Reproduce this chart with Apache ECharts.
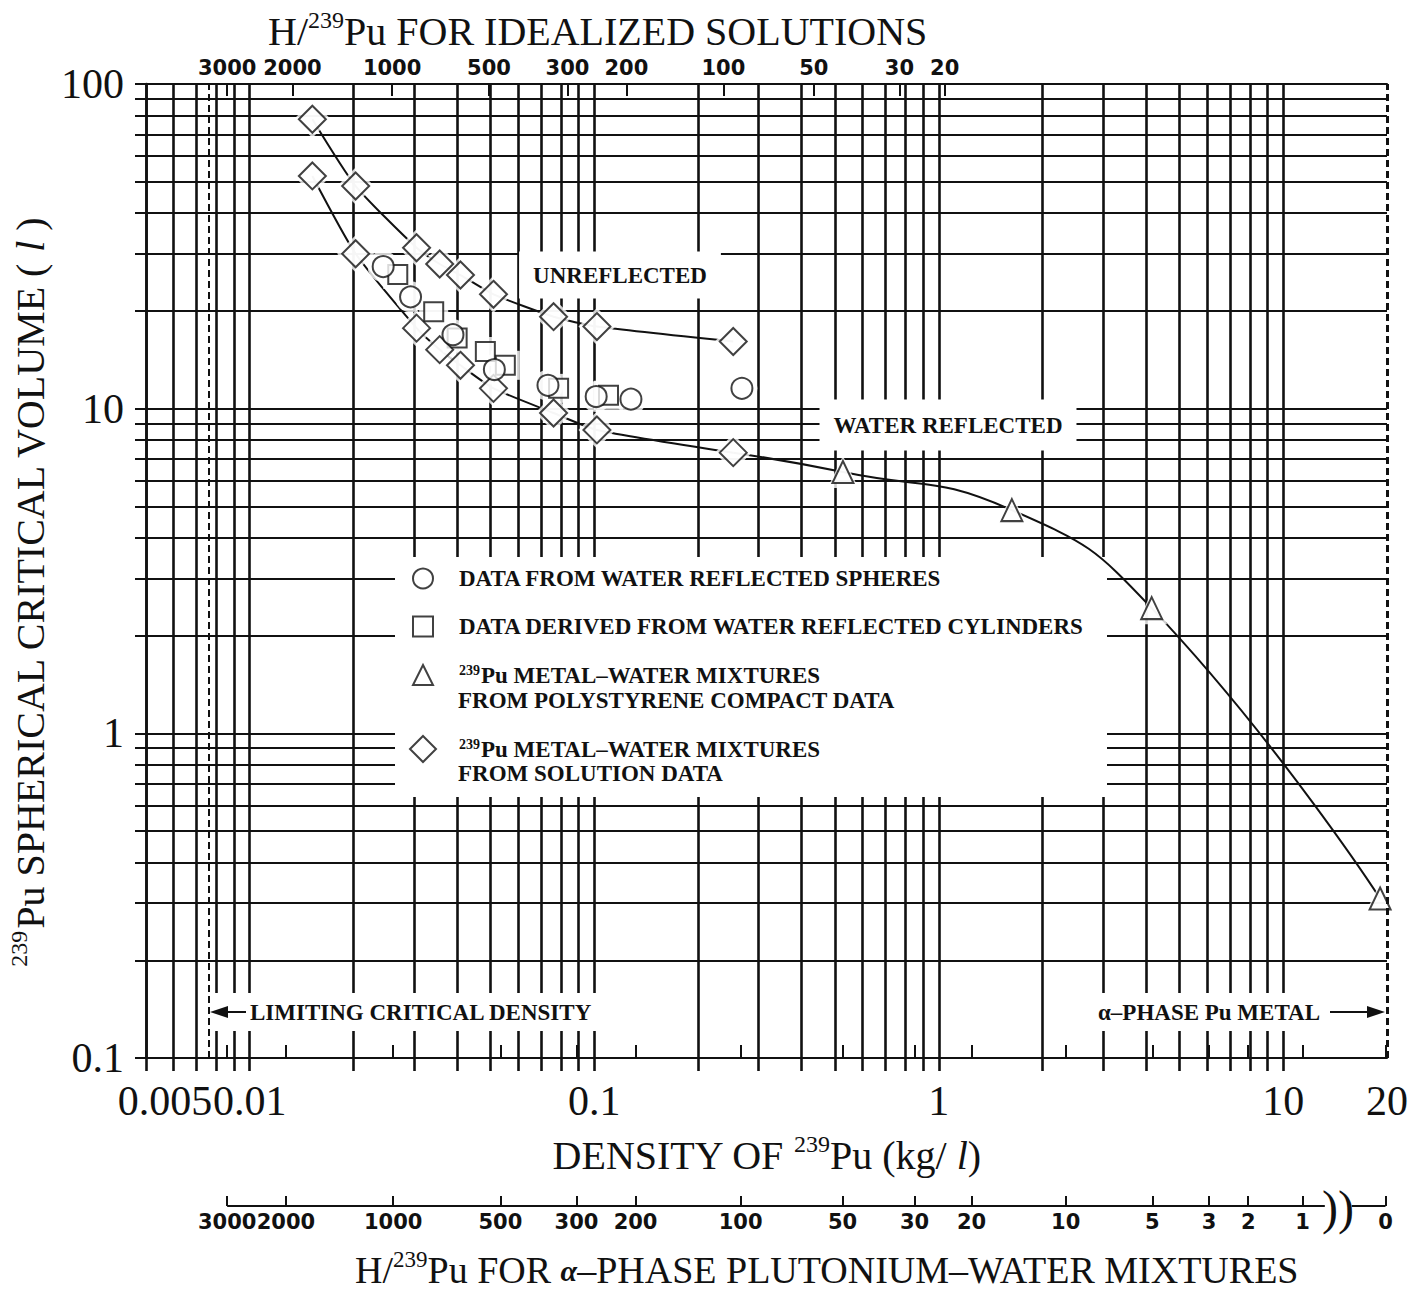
<!DOCTYPE html>
<html>
<head>
<meta charset="utf-8">
<title>239Pu spherical critical volume</title>
<script src="https://cdn.jsdelivr.net/npm/echarts@6/dist/echarts.min.js"></script>
<style>
  html, body { margin: 0; padding: 0; background: #fff; }
  #chart { width: 1413px; height: 1294px; }
</style>
</head>
<body>
<div id="chart"></div>
<script>
// density of 239Pu (kg/l) and critical volume (l)
const unreflectedDensity = [0.0152, 0.0203, 0.0305, 0.0356, 0.0409, 0.0510, 0.0762, 0.1018, 0.2532];
const unreflectedVolume = [77.9, 48.5, 31.3, 27.9, 25.8, 22.5, 19.2, 17.9, 16.1];
const reflectedDensity = [0.0152, 0.0203, 0.0305, 0.0356, 0.0409, 0.0510, 0.0762, 0.1018, 0.2532];
const reflectedVolume = [52.1, 30.0, 17.7, 15.2, 13.6, 11.55, 9.7, 8.6, 7.32];
const compactDensity = [0.527, 1.63, 4.15, 19.1];
const compactVolume = [6.38, 4.87, 2.43, 0.31];
const sphereDensity = [0.0244, 0.0293, 0.0389, 0.0513, 0.0734, 0.1013, 0.1278, 0.2683];
const sphereVolume = [27.4, 22.1, 16.9, 13.2, 11.8, 10.9, 10.7, 11.55];
const cylinderDensity = [0.0269, 0.0342, 0.0400, 0.0483, 0.0552, 0.0788, 0.1100];
const cylinderVolume = [25.9, 19.9, 16.5, 15.0, 13.6, 11.55, 11.0];

// grid and tick values
const xGridValues = [0.005, 0.006, 0.007, 0.008, 0.009,
  0.01, 0.02, 0.03, 0.04, 0.05, 0.06, 0.07, 0.08, 0.09,
  0.1, 0.2, 0.3, 0.4, 0.5, 0.6, 0.7, 0.8, 0.9,
  1, 2, 3, 4, 5, 6, 7, 8, 9, 10];
const xLabelValues = [0.005, 0.01, 0.1, 1, 10, 20];
const yGridValues = [0.1, 0.2, 0.3, 0.4, 0.5, 0.6, 0.7, 0.8, 0.9,
  1, 2, 3, 4, 5, 6, 7, 8, 9,
  10, 20, 30, 40, 50, 60, 70, 80, 90, 100];
const yLabelValues = [0.1, 1, 10, 100];

// H/239Pu scales and where they fall on the density axis
const solutionHPu = ['3000', '2000', '1000', '500', '300', '200', '100', '50', '30', '20'];
const solutionHPuDensity = [0.0086, 0.0133, 0.0259, 0.0495, 0.0836, 0.124, 0.237, 0.434, 0.769, 1.04];
const alphaHPu = ['3000', '2000', '1000', '500', '300', '200', '100', '50', '30', '20', '10', '5', '3', '2', '1', '0'];
const alphaHPuDensity = [0.0086, 0.01274, 0.02608, 0.0534, 0.0888, 0.1318, 0.2661, 0.5259, 0.8503,
  1.245, 2.335, 4.168, 6.089, 7.91, 11.37, 19.8];

const LIMITING_DENSITY = 0.0076;
const ALPHA_METAL_DENSITY = 20;
const SCALE_BREAK = [13.2, 15.8];

const SERIF = "'Liberation Serif', 'DejaVu Serif', serif";
const GOTHIC = "'DejaVu Sans', 'Liberation Sans', sans-serif";
const INK = '#111';

const SPHERES = 'DATA FROM WATER REFLECTED SPHERES';
const CYLINDERS = 'DATA DERIVED FROM WATER REFLECTED CYLINDERS';
const COMPACT = '239Pu METAL–WATER MIXTURES FROM POLYSTYRENE COMPACT DATA';
const SOLUTION = '239Pu METAL–WATER MIXTURES FROM SOLUTION DATA';

function zip(xs, ys) {
  return xs.map(function (x, i) { return [x, ys[i]]; });
}

function lookup(values, labels) {
  return function (v) {
    for (let i = 0; i < values.length; i++) {
      if (Math.abs(Math.log10(v) - Math.log10(values[i])) < 1e-6) return labels[i];
    }
    return '';
  };
}

function plain(v) {
  return String(+(+v).toPrecision(6));
}

function legendText(pad) {
  return {
    formatter: function (name) {
      if (name.indexOf('239') === 0) return '{sp|239}{t|Pu METAL–WATER MIXTURES}';
      return '{p|' + name + '}';
    },
    textStyle: {
      rich: {
        p: { fontFamily: SERIF, fontWeight: 'bold', fontSize: 23, lineHeight: 24, color: INK, padding: [0, 0, 0, pad] },
        t: { fontFamily: SERIF, fontWeight: 'bold', fontSize: 23, lineHeight: 24, color: INK },
        sp: { fontFamily: SERIF, fontWeight: 'bold', fontSize: 14, lineHeight: 14, verticalAlign: 'top', color: INK, padding: [0, 1, 0, pad] }
      }
    }
  };
}

// rich styles for titles and axis names (superscript 239, italic litre)
function titleRich(size) {
  return {
    a: { fontFamily: SERIF, fontWeight: 'normal', fontSize: size, lineHeight: size + 6, color: INK },
    i: { fontFamily: SERIF, fontWeight: 'normal', fontSize: size, lineHeight: size + 6, fontStyle: 'italic', color: INK },
    s: { fontFamily: SERIF, fontWeight: 'normal', fontSize: Math.round(size * 0.6), lineHeight: Math.round(size * 0.75), verticalAlign: 'top', color: INK },
    g: { fontFamily: SERIF, fontWeight: 'bold', fontStyle: 'italic', fontSize: Math.round(size * 0.78), lineHeight: size + 6, color: INK }
  };
}

const markerStyle = { color: '#fff', borderColor: INK, borderWidth: 2 };
const haloStyle = { color: '#fff', borderWidth: 0 };

const solutionPoints = zip(unreflectedDensity, unreflectedVolume).concat(zip(reflectedDensity, reflectedVolume));
const lastReflected = reflectedDensity.length - 1;

const chart = echarts.init(document.getElementById('chart'), null, { renderer: 'svg' });

const option = {
  animation: false,
  backgroundColor: '#fff',
  title: [
    {
      text: '{a|H/}{s|239}{a|Pu FOR IDEALIZED SOLUTIONS}',
      left: 268, top: 8, padding: 0,
      textStyle: { fontWeight: 'normal', rich: titleRich(40) }
    },
    {
      text: '{a|H/}{s|239}{a|Pu FOR }{g|α}{a|–PHASE PLUTONIUM–WATER MIXTURES}',
      left: 355, top: 1248, padding: 0,
      textStyle: { fontWeight: 'normal', rich: titleRich(38) }
    }
  ],
  legend: [
    Object.assign({
      data: [{ name: SPHERES }, { name: CYLINDERS }, { name: COMPACT }],
      orient: 'vertical', left: 412, top: 567, padding: 0,
      itemWidth: 20, itemHeight: 20, itemGap: 25, selectedMode: false
    }, legendText(21)),
    Object.assign({
      data: [{ name: SOLUTION }],
      orient: 'vertical', left: 409, top: 735, padding: 0,
      itemWidth: 26, itemHeight: 26, selectedMode: false
    }, legendText(18))
  ],
  grid: [
    { left: 146, right: 26, top: 84, bottom: 236, outerBoundsMode: 'none' },
    { left: 146, right: 26, top: 1196, height: 10, outerBoundsMode: 'none' }
  ],
  xAxis: [
    {
      gridIndex: 0, type: 'log', min: 0.005, max: 20, position: 'bottom',
      axisLine: { show: true, lineStyle: { color: INK, width: 2 } },
      axisTick: { show: true, customValues: xGridValues, length: 13, lineStyle: { color: INK, width: 2.6 } },
      axisLabel: {
        customValues: xLabelValues, margin: 22,
        fontFamily: SERIF, fontSize: 42, color: INK,
        formatter: function (v) {
          const s = plain(v);
          return s === '0.005' ? '{m|0.005}' : s;
        },
        rich: { m: { fontFamily: SERIF, fontSize: 42, color: INK, padding: [0, 0, 0, 38] } }
      },
      splitLine: { show: true, lineStyle: { color: INK, width: 2.6 } },
      name: '{a|DENSITY OF }{s|239}{a|Pu (kg/ }{i|l}{a|)}',
      nameLocation: 'middle', nameGap: 74,
      nameTextStyle: { rich: titleRich(40) }
    },
    {
      gridIndex: 0, type: 'log', min: 0.005, max: 20, position: 'top',
      axisLine: { show: true, lineStyle: { color: INK, width: 2 } },
      axisTick: { show: true, inside: true, customValues: solutionHPuDensity, length: 12, lineStyle: { color: INK, width: 2 } },
      axisLabel: {
        customValues: solutionHPuDensity, margin: 6,
        fontFamily: GOTHIC, fontWeight: 'bold', fontSize: 21, color: INK,
        formatter: lookup(solutionHPuDensity, solutionHPu)
      },
      splitLine: { show: false }
    },
    {
      gridIndex: 0, type: 'log', min: 0.005, max: 20, position: 'bottom',
      axisLine: { show: false },
      axisTick: { show: true, inside: true, customValues: alphaHPuDensity, length: 13, lineStyle: { color: INK, width: 2 } },
      axisLabel: { show: false },
      splitLine: { show: false }
    },
    {
      gridIndex: 1, type: 'log', min: 0.005, max: 20, position: 'bottom',
      axisLine: { show: false },
      axisTick: { show: true, inside: true, customValues: alphaHPuDensity, length: 10, lineStyle: { color: INK, width: 2 } },
      axisLabel: {
        customValues: alphaHPuDensity, margin: 5,
        fontFamily: GOTHIC, fontWeight: 'bold', fontSize: 21, color: INK,
        formatter: lookup(alphaHPuDensity, alphaHPu)
      },
      splitLine: { show: false }
    }
  ],
  yAxis: [
    {
      gridIndex: 0, type: 'log', min: 0.1, max: 100,
      axisLine: { show: true, lineStyle: { color: INK, width: 2.6 } },
      axisTick: { show: true, customValues: yGridValues, length: 11, lineStyle: { color: INK, width: 2 } },
      axisLabel: {
        customValues: yLabelValues, margin: 22,
        fontFamily: SERIF, fontSize: 42, color: INK, formatter: plain
      },
      splitLine: { show: true, lineStyle: { color: INK, width: 2 } },
      name: '{s|239}{a|Pu SPHERICAL CRITICAL VOLUME ( }{i|l}{a| )}',
      nameLocation: 'middle', nameGap: 78,
      nameTextStyle: { padding: [0, 42, 0, 0], rich: titleRich(40) }
    },
    { gridIndex: 1, type: 'value', min: 0, max: 1, show: false }
  ],
  series: [
    {
      name: 'unreflected curve', type: 'line', xAxisIndex: 0, yAxisIndex: 0,
      data: zip(unreflectedDensity, unreflectedVolume),
      smooth: 0.2, symbol: 'none', silent: true, z: 2,
      lineStyle: { color: INK, width: 2 },
      markLine: {
        silent: true, symbol: ['none', 'none'], label: { show: false }, precision: 6,
        lineStyle: { color: INK, type: [7, 4], width: 2 },
        data: [{ xAxis: LIMITING_DENSITY }, { xAxis: ALPHA_METAL_DENSITY, lineStyle: { width: 3 } }]
      }
    },
    {
      name: 'reflected curve', type: 'line', xAxisIndex: 0, yAxisIndex: 0,
      data: zip(reflectedDensity, reflectedVolume),
      smooth: 0.2, symbol: 'none', silent: true, z: 2,
      lineStyle: { color: INK, width: 2 }
    },
    {
      name: 'reflected curve, metal-water', type: 'line', xAxisIndex: 0, yAxisIndex: 0,
      data: [[reflectedDensity[lastReflected], reflectedVolume[lastReflected]]].concat(zip(compactDensity, compactVolume)),
      smooth: 0.5, symbol: 'none', silent: true, z: 2,
      lineStyle: { color: INK, width: 2 }
    },
    { type: 'scatter', data: zip(cylinderDensity, cylinderVolume), symbol: 'rect', symbolSize: 29, itemStyle: haloStyle, silent: true, z: 3 },
    { type: 'scatter', data: zip(sphereDensity, sphereVolume), symbol: 'circle', symbolSize: 31, itemStyle: haloStyle, silent: true, z: 3 },
    { type: 'scatter', data: zip(compactDensity, compactVolume), symbol: 'triangle', symbolSize: [31, 32], itemStyle: haloStyle, silent: true, z: 3 },
    { type: 'scatter', data: solutionPoints, symbol: 'diamond', symbolSize: 37, itemStyle: haloStyle, silent: true, z: 3 },
    { name: CYLINDERS, type: 'scatter', data: zip(cylinderDensity, cylinderVolume), symbol: 'rect', symbolSize: 19, itemStyle: markerStyle, z: 4 },
    { name: SPHERES, type: 'scatter', data: zip(sphereDensity, sphereVolume), symbol: 'circle', symbolSize: 21, itemStyle: markerStyle, z: 5 },
    { name: COMPACT, type: 'scatter', data: zip(compactDensity, compactVolume), symbol: 'triangle', symbolSize: [21, 22], itemStyle: markerStyle, z: 4 },
    { name: SOLUTION, type: 'scatter', data: solutionPoints, symbol: 'diamond', symbolSize: 27, itemStyle: markerStyle, z: 4 },
    {
      name: 'scale left', type: 'line', xAxisIndex: 3, yAxisIndex: 1, clip: false, silent: true,
      data: [[alphaHPuDensity[0], 0], [SCALE_BREAK[0], 0]], symbol: 'none', lineStyle: { color: INK, width: 2 }
    },
    {
      name: 'scale right', type: 'line', xAxisIndex: 3, yAxisIndex: 1, clip: false, silent: true,
      data: [[SCALE_BREAK[1], 0], [alphaHPuDensity[alphaHPuDensity.length - 1], 0]], symbol: 'none', lineStyle: { color: INK, width: 2 }
    }
  ],
  graphic: [
    // white boxes that break the grid under the notes
    { type: 'rect', shape: { x: 395, y: 557, width: 712, height: 240 }, style: { fill: '#fff' }, z: 1, silent: true },
    { type: 'rect', shape: { x: 212, y: 993, width: 390, height: 38 }, style: { fill: '#fff' }, z: 1, silent: true },
    { type: 'rect', shape: { x: 1050, y: 993, width: 334, height: 38 }, style: { fill: '#fff' }, z: 1, silent: true },
    {
      type: 'text', x: 458, y: 700, z: 10, silent: true,
      style: { text: 'FROM POLYSTYRENE COMPACT DATA', fontFamily: SERIF, fontWeight: 'bold', fontSize: 23, fill: INK, verticalAlign: 'middle' }
    },
    {
      type: 'text', x: 458, y: 773, z: 10, silent: true,
      style: { text: 'FROM SOLUTION DATA', fontFamily: SERIF, fontWeight: 'bold', fontSize: 23, fill: INK, verticalAlign: 'middle' }
    },
    {
      type: 'text', x: 620, y: 275, z: 10, silent: true,
      style: { text: 'UNREFLECTED', fontFamily: SERIF, fontWeight: 'bold', fontSize: 23, fill: INK, align: 'center', verticalAlign: 'middle', backgroundColor: '#fff', padding: [12, 14] }
    },
    {
      type: 'text', x: 948, y: 425, z: 10, silent: true,
      style: { text: 'WATER REFLECTED', fontFamily: SERIF, fontWeight: 'bold', fontSize: 23, fill: INK, align: 'center', verticalAlign: 'middle', backgroundColor: '#fff', padding: [14, 14] }
    },
    {
      type: 'text', x: 250, y: 1012, z: 10, silent: true,
      style: { text: 'LIMITING CRITICAL DENSITY', fontFamily: SERIF, fontWeight: 'bold', fontSize: 23, fill: INK, verticalAlign: 'middle' }
    },
    { type: 'line', shape: { x1: 226, y1: 1012, x2: 246, y2: 1012 }, style: { stroke: INK, lineWidth: 2 }, z: 10, silent: true },
    { type: 'polygon', shape: { points: [[210, 1012], [228, 1006], [228, 1018]] }, style: { fill: INK }, z: 10, silent: true },
    {
      type: 'text', x: 1320, y: 1012, z: 10, silent: true,
      style: { text: 'α–PHASE Pu METAL', fontFamily: SERIF, fontWeight: 'bold', fontSize: 23, fill: INK, align: 'right', verticalAlign: 'middle' }
    },
    { type: 'line', shape: { x1: 1330, y1: 1012, x2: 1370, y2: 1012 }, style: { stroke: INK, lineWidth: 2 }, z: 10, silent: true },
    { type: 'polygon', shape: { points: [[1385, 1012], [1367, 1006], [1367, 1018]] }, style: { fill: INK }, z: 10, silent: true },
    {
      type: 'text', x: 1338, y: 1207, z: 10, silent: true,
      style: { text: '))', fontFamily: SERIF, fontSize: 48, fill: INK, align: 'center', verticalAlign: 'middle' }
    }
  ]
};

chart.setOption(option);
</script>
</body>
</html>
